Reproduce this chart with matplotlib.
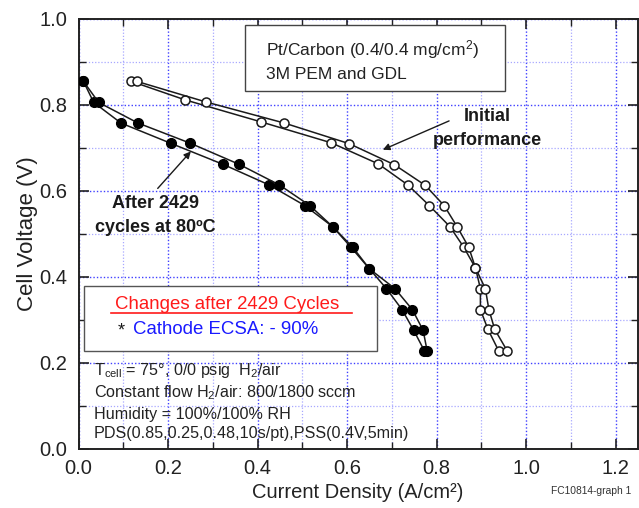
import matplotlib
matplotlib.use("Agg")
import matplotlib.pyplot as plt
from matplotlib.ticker import MultipleLocator

plt.rcParams['font.family'] = ['Liberation Sans', 'DejaVu Sans']
plt.rcParams['mathtext.fontset'] = 'custom'
plt.rcParams['mathtext.rm'] = 'Liberation Sans'
plt.rcParams['mathtext.it'] = 'Liberation Sans'

# Cycled cell: two sweeps (current density A/cm^2 vs cell voltage V)
aged_v = [0.855, 0.806, 0.758, 0.711, 0.662, 0.614, 0.566, 0.517, 0.469, 0.419, 0.373, 0.324, 0.276, 0.228]
aged_j_a = [0.011, 0.034, 0.095, 0.206, 0.323, 0.426, 0.506, 0.568, 0.609, 0.650, 0.688, 0.723, 0.749, 0.773]
aged_j_b = [0.011, 0.045, 0.133, 0.250, 0.359, 0.449, 0.517, 0.568, 0.613, 0.650, 0.707, 0.746, 0.770, 0.779]

# Fresh cell: two sweeps
init_v_a = [0.855, 0.812, 0.761, 0.712, 0.663, 0.614, 0.566, 0.517, 0.469, 0.421, 0.373, 0.324, 0.278, 0.228]
init_v_b = [0.855, 0.807, 0.758, 0.710, 0.661, 0.613, 0.566, 0.517, 0.469, 0.421, 0.373, 0.324, 0.278, 0.228]
init_j_a = [0.118, 0.238, 0.407, 0.565, 0.670, 0.736, 0.784, 0.830, 0.861, 0.887, 0.898, 0.898, 0.915, 0.939]
init_j_b = [0.130, 0.285, 0.460, 0.605, 0.706, 0.775, 0.817, 0.846, 0.872, 0.887, 0.909, 0.917, 0.930, 0.958]

x_ticks = [0.0, 0.2, 0.4, 0.6, 0.8, 1.0, 1.2]
y_ticks = [0.0, 0.2, 0.4, 0.6, 0.8, 1.0]

fig = plt.figure(figsize=(6.39, 5.08), dpi=100)
ax = fig.add_axes([78.5 / 639, 1 - 449 / 508, (637.5 - 78.5) / 639, (449 - 19) / 508])

ax.set_xlim(0, 1.249)
ax.set_ylim(0, 1.0)
ax.set_xticks(x_ticks)
ax.set_yticks(y_ticks)
ax.xaxis.set_minor_locator(MultipleLocator(0.1))
ax.yaxis.set_minor_locator(MultipleLocator(0.1))
ax.set_xticklabels([f"{v:.1f}" for v in x_ticks])
ax.set_yticklabels([f"{v:.1f}" for v in y_ticks])

ax.grid(which='major', color='#4040ff', linestyle=(0, (1, 1.5)), linewidth=1.0)
ax.grid(which='minor', color='#a8a8ff', linestyle=(0, (1, 1.5)), linewidth=0.9)
ax.set_axisbelow(True)

ax.tick_params(which='both', direction='in', top=True, right=True, colors='#222222',
               labelsize=14.5, labelcolor='#222222')
ax.tick_params(which='major', length=7, width=1.2)
ax.tick_params(which='minor', length=5, width=1.0)
ax.tick_params(axis='x', pad=7)
ax.tick_params(axis='y', pad=8)
for s in ax.spines.values():
    s.set_linewidth(1.4)
    s.set_color('#222222')

lkw = dict(color='#1a1a1a', linewidth=1.1)
ax.plot(aged_j_a, aged_v, marker='o', markersize=7, markerfacecolor='black',
        markeredgecolor='black', zorder=3, **lkw)
ax.plot(aged_j_b, aged_v, marker='o', markersize=7, markerfacecolor='black',
        markeredgecolor='black', zorder=3, **lkw)
ax.plot(init_j_a, init_v_a, marker='o', markersize=6.5, markerfacecolor='white',
        markeredgecolor='#1a1a1a', markeredgewidth=1.1, zorder=3, **lkw)
ax.plot(init_j_b, init_v_b, marker='o', markersize=6.5, markerfacecolor='white',
        markeredgecolor='#1a1a1a', markeredgewidth=1.1, zorder=3, **lkw)

ax.set_xlabel('Current Density (A/cm²)', fontsize=14.5, color='#222222', labelpad=4)
ax.set_ylabel('Cell Voltage (V)', fontsize=16, color='#222222', labelpad=1)

# Sample description box
top_box = plt.Rectangle((0.372, 0.833), 0.581, 0.153, transform=ax.transData,
                        facecolor='white', edgecolor='#444444', linewidth=1.0, zorder=4)
ax.add_patch(top_box)
ax.text(0.419, 0.930, 'Pt/Carbon (0.4/0.4 mg/cm$^2$)', fontsize=12.5,
        ha='left', va='center', color='#222222', zorder=5)
ax.text(0.419, 0.872, '3M PEM and GDL', fontsize=12.5,
        ha='left', va='center', color='#222222', zorder=5)

# Curve annotations
arrow = dict(arrowstyle='-|>', color='#1a1a1a', lw=1.0, mutation_scale=10,
             shrinkA=0, shrinkB=0)
ax.text(0.913, 0.745, 'Initial\nperformance', fontsize=13, fontweight='bold',
        ha='center', va='center', color='#1a1a1a', linespacing=1.5, zorder=5)
ax.annotate('', xy=(0.680, 0.696), xytext=(0.828, 0.763), arrowprops=arrow, zorder=5)
ax.text(0.171, 0.543, 'After 2429\ncycles at 80ºC', fontsize=13, fontweight='bold',
        ha='center', va='center', color='#1a1a1a', linespacing=1.6, zorder=5)
ax.annotate('', xy=(0.251, 0.692), xytext=(0.177, 0.606), arrowprops=arrow, zorder=5)

# Summary of changes
box = plt.Rectangle((0.013, 0.228), 0.653, 0.15, transform=ax.transData,
                    facecolor='white', edgecolor='#555555', linewidth=1.0, zorder=4)
ax.add_patch(box)
ax.text(0.332, 0.335, 'Changes after 2429 Cycles', fontsize=13.4, color='#ff1a1a',
        ha='center', va='center', zorder=5)
ax.plot([0.072, 0.61], [0.316, 0.316], color='#ff1a1a', linewidth=1.2, zorder=5)
ax.text(0.095, 0.275, '*', fontsize=13, color='#1a1a1a', ha='center', va='center', zorder=5)
ax.text(0.122, 0.279, 'Cathode ECSA: - 90%', fontsize=13.4, color='#1a1aff',
        ha='left', va='center', zorder=5)

# Test conditions
cond = [
    r'$\mathregular{T_{cell}}$ = 75°, 0/0 psig  H$\mathregular{_2}$/air',
    r'Constant flow H$\mathregular{_2}$/air: 800/1800 sccm',
    'Humidity = 100%/100% RH',
    'PDS(0.85,0.25,0.48,10s/pt),PSS(0.4V,5min)',
]
cond_y = [0.183, 0.132, 0.081, 0.037]
for t, yy in zip(cond, cond_y):
    ax.text(0.034, yy, t, fontsize=11.6, color='#222222', ha='left', va='center', zorder=5)

fig.text(631 / 639, 1 - 491 / 508, 'FC10814-graph 1', fontsize=7.4, color='#333333',
         ha='right', va='center')

fig.savefig('out.png', dpi=100)
